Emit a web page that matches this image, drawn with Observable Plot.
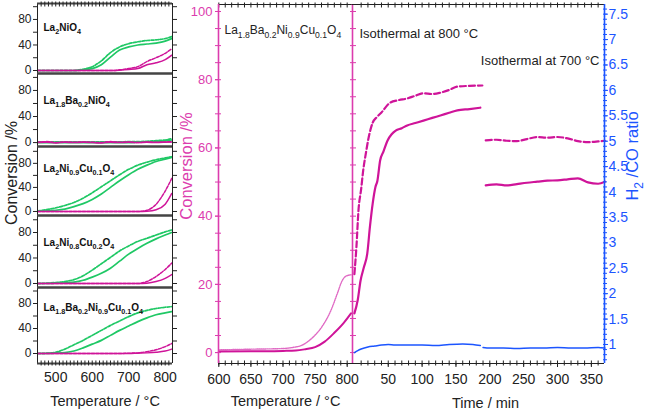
<!DOCTYPE html>
<html><head><meta charset="utf-8">
<script src="https://cdn.jsdelivr.net/npm/d3@7"></script>
<script src="https://cdn.jsdelivr.net/npm/@observablehq/plot@0.6"></script>
<style>
html,body{margin:0;padding:0;background:#fff;}
#chart{position:relative;width:646px;height:410px;overflow:hidden;}
#chart svg{position:absolute;left:0;top:0;}
</style></head><body><div id="chart"></div>
<script>
// ---------------- data ----------------
const panelNames = ["La2NiO4", "La1.8Ba0.2NiO4", "La2Ni0.9Cu0.1O4", "La2Ni0.8Cu0.2O4", "La1.8Ba0.2Ni0.9Cu0.1O4"];
const rampTemps = [450, 475, 500, 525, 550, 575, 600, 625, 650, 675, 700, 725, 750, 775, 800, 818];
// green, solid
const gasA_run1 = [
  [0, 0, 0, 0, 0, 1, 3, 9, 21, 32, 37, 40, 41.5, 43, 46, 50],
  [0, 0, 0, 0, 0, 0, 0, 0, 0, 0, 0, 0.5, 1, 1.5, 2.5, 4],
  [0.5, 1, 2, 4, 8, 13, 20, 29, 40, 51, 61, 70, 77, 83, 87, 90],
  [0, 0, 0.5, 1, 2, 5, 10, 16, 24, 35, 46, 55, 63, 70, 76, 80],
  [0, 0, 0.5, 1.5, 4, 9, 15, 21, 29, 37, 44, 51, 57, 62, 65, 67]
];
// green, dashed
const gasA_run2 = [
  [0, 0, 0, 0, 0, 2, 6, 15, 28, 37, 42, 45, 47, 48, 50, 53],
  [1, 1, 1, 1, 1, 1, 1, 1, 1, 1, 1.5, 1.5, 2, 3, 4, 6],
  [1, 3, 6, 10, 15, 22, 31, 41, 51, 61, 70, 77, 82, 86, 89, 91],
  [0, 0.5, 1.5, 3, 6, 12, 21, 31, 41, 51, 59, 66, 71, 76, 81, 84],
  [0, 0.5, 2, 7, 14, 21, 29, 37, 45, 52, 59, 65, 69, 72, 74, 75]
];
// magenta, solid
const gasB_run1 = [
  [0, 0, 0, 0, 0, 0, 0, 0, 0, 0.5, 1.5, 3, 9, 12, 17, 24],
  [0, 0.5, -0.5, 0.5, 0, 0.5, 0, -0.5, 0.5, 0, 0.5, 0, 0.5, 0, 0.5, 1],
  [0, 0, 0, 0, 0, 0, 0, 0, 0, 0, 0, 0, 0.5, 3, 12, 30],
  [0, 0, 0, 0, 0, 0, 0, 0, 0, 0, 0, 0, 0.5, 3, 8, 14],
  [0, 0, 0, 0, 0, 0, 0, 0, 0, 0, 0, 0.5, 1, 2, 4, 7]
];
// magenta, dashed
const gasB_run2 = [
  [0, 0, 0, 0, 0, 0, 0, 0, 0, 1, 3, 6, 14, 20, 27, 34],
  [0.5, 1.5, 0, 1, 0.5, 1, 0.5, 0, 1.5, 0.5, 1, 0, 1, 0.5, 1, 1.5],
  [0, 0, 0, 0, 0, 0, 0, 0, 0, 0, 0, 0, 2, 12, 34, 55],
  [0, 0, 0, 0, 0, 0, 0, 0, 0, 0, 0, 0, 3, 11, 22, 32],
  [0, 0, 0, 0, 0, 0, 0, 0, 0, 0, 0.5, 1, 3, 6, 11, 16]
];

const mainName = "La1.8Ba0.2Ni0.9Cu0.1O4";
const heatT_solid = [600, 650, 700, 720, 735, 750, 765, 780, 795, 806];
const heatSolid = [0.3, 0.4, 0.5, 0.6, 1.0, 1.6, 3.2, 5.8, 8.8, 11.5];
const heatT_dashed = [600, 650, 700, 715, 730, 745, 760, 775, 785, 792, 798, 806];
const heatDashed = [0.8, 1.0, 1.2, 1.5, 2.2, 4.2, 7.4, 12.5, 17.5, 21, 22.4, 22.8];

const t800_dashed = [0, 3, 6, 10, 13, 17, 21, 27, 33, 40, 53, 65, 78, 90, 102, 115, 127, 140, 152, 170, 189];
const iso800Dashed = [23, 31, 41.6, 48, 53.4, 58.5, 63, 67.4, 69, 70.4, 73.3, 74, 74.5, 75.3, 76, 75.8, 76.2, 77, 78, 78.2, 78.3];
const t800_solid = [0, 5, 9, 14, 19, 23, 27, 31, 34, 38, 43, 49, 55, 61, 70, 78, 90, 102, 115, 127, 140, 152, 170, 186];
const iso800Solid = [11.5, 15.5, 21, 25, 29, 37, 43.7, 48.5, 50.4, 56.3, 59, 62.2, 64, 65.1, 65.8, 66.6, 67.3, 68, 68.8, 69.5, 70.3, 71, 71.4, 71.8];
const t700 = [194, 210, 225, 240, 255, 270, 285, 300, 315, 330, 345, 360, 370];
const iso700Dashed = [62.2, 62.4, 62.1, 62.0, 62.6, 63.2, 63.0, 63.2, 62.8, 62.0, 61.7, 61.9, 62.1];
const iso700Solid = [49.0, 49.3, 49.0, 49.4, 49.8, 50.1, 50.4, 50.5, 50.8, 51.1, 49.9, 49.5, 50.1];
const tRatio800 = [0, 5, 10, 20, 30, 40, 50, 60, 80, 100, 120, 140, 160, 175, 186];
const ratio800 = [0.84, 0.88, 0.91, 0.95, 0.97, 0.99, 1.0, 0.99, 0.99, 0.99, 0.98, 1.0, 1.01, 1.0, 0.98];
const tRatio700 = [190, 200, 220, 240, 260, 280, 300, 320, 340, 360, 370];
const ratio700 = [0.94, 0.93, 0.93, 0.92, 0.93, 0.93, 0.94, 0.93, 0.93, 0.94, 0.93];

const panelTickLabels = [0, 40, 80];
const panelTicks = [0, 20, 40, 60, 80, 100];
const leftTempLabels = [500, 600, 700, 800];
const midTempLabels = [600, 650, 700, 750, 800];
const timeLabels = [50, 100, 150, 200, 250, 300, 350];
const convLabels = [0, 20, 40, 60, 80, 100];
const ratioLabels = [1, 1.5, 2, 2.5, 3, 3.5, 4, 4.5, 5, 5.5, 6, 6.5, 7, 7.5];

// ---------------- style / layout ----------------
const FONT = '"Liberation Sans", Arial, Helvetica, sans-serif';
const GREEN = "#1fc865", MAG = "#cf1499", MAG_LIGHT = "#e06ac4", MAG_AX = "#dc3cae";
const BLUE = "#1c55ff", INK = "#222";
const W = 646, H = 410;
const panelBox = [[3, 73], [73, 146], [146, 215], [215, 287], [287, 363]];
const panelY = [[-4.7, 105], [-6, 106], [-6.7, 108], [-6.3, 106.7], [-16, 105.6]];
const panelLabelDy = [24, 27, 22, 27, 20];
const chart = document.getElementById("chart");

function subscriptify(svg) {
  svg.querySelectorAll("text").forEach(t => {
    if (t.querySelector("tspan")) return;
    const s = t.textContent;
    if (!/La|H2/.test(s)) return;
    let fs = 12, el = t;
    while (el && el !== svg) { const a = el.getAttribute && el.getAttribute("font-size"); if (a) { fs = parseFloat(a); break; } el = el.parentNode; }
    const shift = fs * 0.3;
    const parts = []; let last = 0, m; const re = /([A-Za-z])(\d+(?:\.\d+)?)/g;
    while ((m = re.exec(s))) { parts.push([s.slice(last, m.index + 1), false]); parts.push([m[2], true]); last = m.index + m[0].length; }
    parts.push([s.slice(last), false]);
    t.textContent = "";
    let down = false;
    for (const [str, sub] of parts) {
      if (!str) continue;
      const ts = document.createElementNS("http://www.w3.org/2000/svg", "tspan");
      ts.textContent = str;
      if (sub && !down) { ts.setAttribute("dy", shift); down = true; }
      else if (!sub && down) { ts.setAttribute("dy", -shift); down = false; }
      if (sub) ts.setAttribute("font-size", (fs * 0.72).toFixed(1));
      t.appendChild(ts);
    }
  });
}

function place(opts) {
  const svg = Plot.plot({width: W, height: H, style: {background: "transparent", fontFamily: FONT, overflow: "visible"}, ...opts});
  svg.style.position = "absolute"; svg.style.left = "0px"; svg.style.top = "0px";
  subscriptify(svg);
  chart.appendChild(svg);
  return svg;
}

const blank = () => "";

// ---------------- left stacked panels ----------------
for (let i = 0; i < 5; i++) {
  const [top, bottom] = panelBox[i];
  const yd = panelY[i];
  const xd = [450, 820];
  const marks = [
    Plot.line(rampTemps, {x: rampTemps, y: gasA_run2[i], stroke: GREEN, strokeWidth: 1.7, strokeDasharray: "3,1.5", curve: "monotone-x", clip: true}),
    Plot.line(rampTemps, {x: rampTemps, y: gasA_run1[i], stroke: GREEN, strokeWidth: 1.7, curve: "monotone-x", clip: true}),
    Plot.line(rampTemps, {x: rampTemps, y: gasB_run2[i], stroke: MAG, strokeWidth: 1.5, strokeDasharray: "3,1.5", curve: "monotone-x", clip: true}),
    Plot.line(rampTemps, {x: rampTemps, y: gasB_run1[i], stroke: MAG, strokeWidth: 1.5, curve: "monotone-x", clip: true}),
    Plot.ruleX([xd[0], xd[1]], {stroke: INK, strokeWidth: 1}),
    Plot.ruleY([yd[0], yd[1]], {stroke: "#444", strokeWidth: 2}),
    Plot.axisY({anchor: "left", ticks: panelTicks.filter(v => v <= yd[1]), tickSize: 4, tickPadding: 2,
      tickFormat: d => panelTickLabels.includes(d) ? String(d) : "", fontSize: 12, color: INK, label: null}),
    Plot.axisY({anchor: "right", ticks: panelTicks.filter(v => v <= yd[1]), tickSize: 4, tickFormat: blank, color: INK, label: null}),
    Plot.text([panelNames[i]], {text: d => d, frameAnchor: "top-left", dx: 6, dy: panelLabelDy[i], lineAnchor: "middle", textAnchor: "start", fontSize: 10, fontWeight: "bold", fill: "#111"})
  ];
  if (i === 0) {
    marks.push(Plot.axisX({anchor: "top", ticks: d3.range(460, 820, 10), tickSize: 5, dy: 2.5, tickFormat: blank, color: INK, label: null}));
  }
  if (i === 4) {
    marks.push(
      Plot.axisX({anchor: "bottom", ticks: d3.range(460, 820, 10), tickSize: 5, dy: -2.5, tickFormat: blank, color: INK, label: null}),
      Plot.axisX({anchor: "bottom", ticks: leftTempLabels, tickSize: 0, tickPadding: 9, fontSize: 14, color: INK, label: null}),
      Plot.text(["Temperature / °C"], {text: d => d, frameAnchor: "bottom", dy: 38, lineAnchor: "middle", fontSize: 14.5, fill: INK})
    );
  }
  if (i === 2) {
    marks.push(Plot.text(["Conversion /%"], {text: d => d, frameAnchor: "left", rotate: -90, dx: -26, dy: -8, lineAnchor: "middle", textAnchor: "middle", fontSize: 16, fill: INK}));
  }
  place({
    marginLeft: 37, marginRight: W - 172, marginTop: top, marginBottom: H - bottom,
    x: {domain: xd, axis: null}, y: {domain: yd, axis: null},
    marks
  });
}

// ---------------- middle: heating ramp ----------------
const convY = [-3.2, 102.05];
const heatX = [599.5, 808.3];
place({
  marginLeft: 218, marginRight: W - 352, marginTop: 4, marginBottom: H - 363,
  x: {domain: heatX, axis: null}, y: {domain: convY, axis: null},
  marks: [
    Plot.ruleY(convY, {stroke: INK, strokeWidth: 1.2}),
    Plot.line(heatT_dashed, {x: heatT_dashed, y: heatDashed, stroke: MAG_LIGHT, strokeWidth: 1.4, strokeDasharray: "1,1", curve: "monotone-x"}),
    Plot.line(heatT_solid, {x: heatT_solid, y: heatSolid, stroke: MAG, strokeWidth: 2, curve: "monotone-x"}),
    Plot.axisX({anchor: "top", ticks: d3.range(600, 810, 10), tickSize: 5, dy: 2.5, tickFormat: blank, color: INK, label: null}),
    Plot.axisX({anchor: "bottom", ticks: d3.range(600, 810, 10), tickSize: 5, dy: -2.5, tickFormat: blank, color: INK, label: null}),
    Plot.axisX({anchor: "bottom", ticks: midTempLabels, tickSize: 4, tickPadding: 7, fontSize: 14, color: INK, label: null}),
    Plot.ruleX(heatX, {stroke: MAG_AX, strokeWidth: 1.6}),
    Plot.axisY({anchor: "left", ticks: d3.range(0, 101, 5), tickSize: 6, dx: 3, tickFormat: blank, color: MAG_AX, label: null}),
    Plot.axisY({anchor: "left", ticks: convLabels, tickSize: 3, tickPadding: 3, fontSize: 13, color: MAG_AX, label: null}),
    Plot.axisY({anchor: "right", ticks: d3.range(0, 101, 5), tickSize: 6, dx: -3, tickFormat: blank, color: MAG_AX, label: null}),
    Plot.text(["Conversion /%"], {text: d => d, frameAnchor: "left", rotate: -90, dx: -32, dy: -18, lineAnchor: "middle", textAnchor: "middle", fontSize: 16.5, fill: MAG_AX}),
    Plot.text([mainName], {text: d => d, frameAnchor: "top-left", dx: 6, dy: 26, lineAnchor: "middle", textAnchor: "start", fontSize: 12, fill: INK}),
    Plot.text(["Temperature / °C"], {text: d => d, frameAnchor: "bottom", dy: 38, lineAnchor: "middle", fontSize: 14.5, fill: INK})
  ]
});

// ---------------- middle: isothermal time ----------------
const timeX = [-2.8, 369.4];
place({
  marginLeft: 352, marginRight: W - 604, marginTop: 4, marginBottom: H - 363,
  x: {domain: timeX, axis: null}, y: {domain: convY, axis: null},
  marks: [
    Plot.ruleY(convY, {stroke: INK, strokeWidth: 1.2}),
    Plot.line(t800_dashed, {x: t800_dashed, y: iso800Dashed, stroke: MAG, strokeWidth: 2.2, strokeDasharray: "6,3", curve: "monotone-x"}),
    Plot.line(t800_solid, {x: t800_solid, y: iso800Solid, stroke: MAG, strokeWidth: 2.2, curve: "monotone-x"}),
    Plot.line(t700, {x: t700, y: iso700Dashed, stroke: MAG, strokeWidth: 2.2, strokeDasharray: "6,3", curve: "monotone-x"}),
    Plot.line(t700, {x: t700, y: iso700Solid, stroke: MAG, strokeWidth: 2.2, curve: "monotone-x"}),
    Plot.axisX({anchor: "top", ticks: d3.range(10, 370, 10), tickSize: 5, dy: 2.5, tickFormat: blank, color: INK, label: null}),
    Plot.axisX({anchor: "bottom", ticks: d3.range(10, 370, 10), tickSize: 5, dy: -2.5, tickFormat: blank, color: INK, label: null}),
    Plot.axisX({anchor: "bottom", ticks: timeLabels, tickSize: 4, tickPadding: 7, fontSize: 14, color: INK, label: null}),
    Plot.text(["Isothermal at 800 °C"], {text: d => d, frameAnchor: "top-left", dx: 7, dy: 29, lineAnchor: "middle", textAnchor: "start", fontSize: 13, fill: INK}),
    Plot.text(["Isothermal at 700 °C"], {text: d => d, frameAnchor: "top-right", dx: -5, dy: 56, lineAnchor: "middle", textAnchor: "end", fontSize: 13, fill: INK}),
    Plot.text(["Time / min"], {text: d => d, frameAnchor: "bottom", dx: 7, dy: 40, lineAnchor: "middle", fontSize: 14.5, fill: INK})
  ]
});

// ---------------- H2/CO ratio ----------------
const ratioY = [0.626, 7.69];
place({
  marginLeft: 352, marginRight: W - 604, marginTop: 4, marginBottom: H - 363,
  x: {domain: timeX, axis: null}, y: {domain: ratioY, axis: null},
  marks: [
    Plot.line(tRatio800, {x: tRatio800, y: ratio800, stroke: BLUE, strokeWidth: 1.5, curve: "monotone-x"}),
    Plot.line(tRatio700, {x: tRatio700, y: ratio700, stroke: BLUE, strokeWidth: 1.5, curve: "monotone-x"}),
    Plot.ruleX([timeX[1]], {stroke: BLUE, strokeWidth: 1.6}),
    Plot.axisY({anchor: "right", ticks: d3.range(7, 77, 1).map(v => v / 10), tickSize: 4, dx: -2, tickFormat: blank, color: BLUE, label: null}),
    Plot.axisY({anchor: "right", ticks: ratioLabels, tickSize: 3, tickPadding: 1, fontSize: 14, color: BLUE, tickFormat: d => String(d), label: null}),
    Plot.text(["H2 /CO ratio"], {text: d => d, frameAnchor: "right", rotate: -90, dx: 28, dy: -28, lineAnchor: "middle", textAnchor: "middle", fontSize: 16.5, fill: BLUE})
  ]
});
</script></body></html>
